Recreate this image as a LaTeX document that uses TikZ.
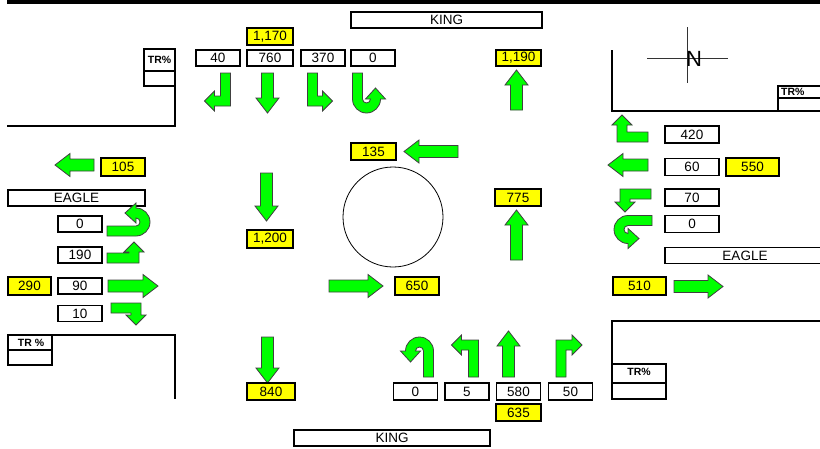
\documentclass[tikz,border=0pt]{standalone}
\usepackage{fontspec}
\setmainfont{Liberation Sans}
\definecolor{arrowgreen}{RGB}{0,255,0}
\definecolor{volyellow}{RGB}{255,255,0}
\newcommand{\valfont}{\fontsize{13.5}{15}\selectfont}
\tikzset{
  valbox/.style={draw, line width=1.6pt, minimum height=16pt, minimum width=44pt, inner sep=0pt, font=\valfont},
  volbox/.style={valbox, fill=volyellow},
  curb/.style={line width=2.6pt},
  trlabel/.style={inner sep=0pt, font=\bfseries\fontsize{10.5}{12}\selectfont},
  arrowshape/.style={fill=arrowgreen, draw=black!75, line width=0.8pt}
}
% green lane arrows, drawn pointing east from the tail at #2
\newcommand{\thruarrow}[3][]{%
  \begin{scope}[shift={(#2)},#1]
    \draw[arrowshape] (0,-6) -- ({#3-15},-6) -- ({#3-15},-11.5) -- (#3,0) -- ({#3-15},11.5) -- ({#3-15},6) -- (0,6) -- cycle;
  \end{scope}}
\newcommand{\turnarrow}[4][]{%
  \begin{scope}[shift={(#2)},#1]
    \draw[arrowshape] (0,5) -- ({#3+5},5) -- ({#3+5},{10-#4}) -- ({#3+10},{10-#4}) -- (#3,-#4)
      -- ({#3-10},{10-#4}) -- ({#3-5},{10-#4}) -- ({#3-5},-5) -- (0,-5) -- cycle;
  \end{scope}}
\newcommand{\uturnarrow}[3][]{%
  \begin{scope}[shift={(#2)},#1]
    \draw[arrowshape] (0,5) -- (#3,5)
      .. controls ({#3+7.73},5) and ({#3+14},-1.27) .. ({#3+14},-9)
      .. controls ({#3+14},-16.73) and ({#3+7.73},-23) .. (#3,-23)
      -- (#3,-28) -- ({#3-11},-18) -- (#3,-8) -- (#3,-13)
      .. controls ({#3+2.21},-13) and ({#3+4},-11.21) .. ({#3+4},-9)
      .. controls ({#3+4},-6.79) and ({#3+2.21},-5) .. (#3,-5)
      -- (0,-5) -- cycle;
  \end{scope}}
\begin{document}
\begin{tikzpicture}[x=1pt,y=-1pt]
\useasboundingbox (0,0) rectangle (820,448);
% frame and curbs
\draw[line width=3.5pt] (7,2) -- (820,2);
\draw[curb] (7,126) -- (175,126) -- (175,49);
\draw[curb] (612,50) -- (612,111) -- (820,111);
\draw[curb] (52,335) -- (175,335) -- (175,399);
\draw[curb] (612,399) -- (612,321) -- (820,321);
% TR% boxes
\draw[curb] (144,49) rectangle (175,86); \draw[curb] (144,71) -- (175,71);
\node[trlabel] (trnw) at (159.5,60) {TR\%};
\draw[curb] (778,86) rectangle (830,111); \draw[curb] (778,98) -- (830,98);
\node[trlabel, anchor=west] (trne) at (781,92) {TR\%};
\draw[curb] (8,335) rectangle (52,365); \draw[curb] (8,350) -- (52,350);
\node[trlabel] (trsw) at (31,342.5) {TR \%};
\draw[curb] (612,364) rectangle (666,399); \draw[curb] (612,383) -- (666,383);
\node[trlabel] (trse) at (639,372) {TR\%};
% street names
\node[valbox, minimum width=191pt] (kingn) at (446.5,20) {KING};
\node[valbox, minimum width=196pt] (kings) at (392,438) {KING};
\node[valbox, minimum width=137pt] (eaglew) at (76.5,198) {EAGLE};
\node[valbox, minimum width=160pt] (eaglee) at (745,255.5) {EAGLE};
% north sign and circle
\draw[black!80, line width=0.9pt] (647,58) -- (728,58);
\draw[black!80, line width=0.9pt] (687,27) -- (687,83);
\node[inner sep=0pt, font=\fontsize{22}{24}\selectfont] (north) at (694,59) {N};
\draw[line width=0.8pt] (393,217) circle (50);
% southbound approach
\foreach \cx/\v/\w in {218/40/44, 270/760/46, 323/370/44, 373/0/44}{
\node[valbox, minimum width=\w pt] (sb\v) at (\cx,58) {\v};
}
\node[volbox, minimum width=46pt, minimum height=17pt] (sbin) at (270,36.5) {1,170};
\turnarrow[rotate=-90, yscale=-1]{225.5,73}{28}{21}
\thruarrow[rotate=-90]{267.5,73}{40}
\turnarrow[rotate=-90]{312.5,73}{28}{20}
\uturnarrow[rotate=-90]{357.5,73}{26}
\node[volbox, minimum width=45pt] (nbout) at (518.5,58) {1,190};
\thruarrow[rotate=90]{516.5,110}{40}
% westbound approach
\foreach \cy/\v in {134.5/420, 167/60, 197.5/70, 224/0}{
\node[valbox, minimum width=54pt, minimum height=17pt] (wb\v) at (692,\cy) {\v};
}
\node[volbox, minimum width=53pt, minimum height=18pt] (wbin) at (752.5,167) {550};
\turnarrow[rotate=180, yscale=-1]{648,137}{26}{22}
\thruarrow[rotate=180]{648,165}{40}
\turnarrow[rotate=180]{651,194}{26}{18}
\uturnarrow[rotate=180]{652,220.5}{24}
\node[volbox, minimum width=53pt, minimum height=18pt] (ebout) at (639.5,286) {510};
\thruarrow{674,286.5}{49}
% inside the intersection
\node[volbox, minimum width=45pt, minimum height=17pt] (wbthru) at (373.5,151.5) {135};
\thruarrow[rotate=180]{458,151.5}{54}
\node[volbox, minimum width=46pt, minimum height=17pt] (nbthru) at (518,197.5) {775};
\thruarrow[rotate=90]{516.5,260}{50}
\thruarrow[rotate=-90]{266.5,173}{48}
\node[volbox, minimum width=46pt, minimum height=18pt] (sbthru) at (270,239) {1,200};
\thruarrow{329,286}{54}
\node[volbox, minimum width=44pt, minimum height=18pt] (ebthru) at (417,286) {650};
% eastbound approach
\thruarrow[rotate=180]{94,165}{39}
\node[volbox, minimum width=44pt, minimum height=18pt] (wbout) at (123,167) {105};
\foreach \cy/\v in {224/0, 255/190, 286/90, 313.5/10}{
\node[valbox, minimum width=44pt] (eb\v) at (80,\cy) {\v};
}
\node[volbox, minimum width=43pt, minimum height=18pt] (ebin) at (29.5,286) {290};
\uturnarrow{107,231}{29}
\turnarrow{107,258}{27}{16}
\thruarrow{108,286}{50}
\turnarrow[yscale=-1]{111,308}{25}{17}
% northbound approach
\thruarrow[rotate=-90]{267.5,337}{46}
\node[volbox, minimum width=48pt, minimum height=17pt] (sbout) at (271,391.5) {840};
\foreach \cx/\v in {415.5/0, 467/5, 518.5/580, 570.5/50}{
\node[valbox, minimum height=17pt] (nb\v) at (\cx,391.5) {\v};
}
\node[volbox, minimum width=45pt, minimum height=17pt] (nbin) at (518.5,412.5) {635};
\uturnarrow[rotate=90]{428.5,377}{26}
\turnarrow[rotate=90]{473.5,377}{32}{22}
\thruarrow[rotate=90]{508.5,377}{46}
\turnarrow[rotate=90, yscale=-1]{561,377}{32}{21}
\end{tikzpicture}
\end{document}
